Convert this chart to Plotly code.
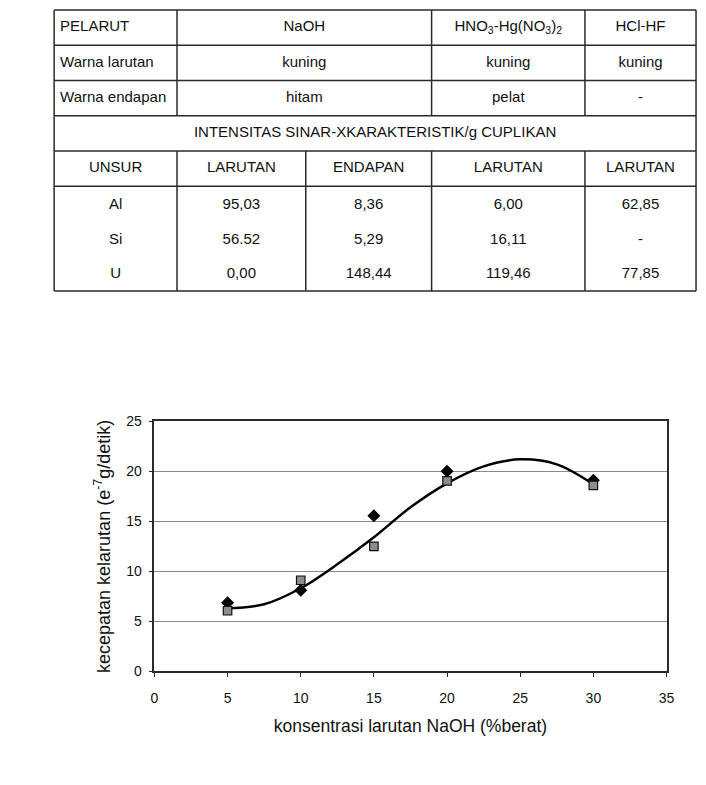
import plotly.graph_objects as go

# ---- table contents
pelarut = ["NaOH", "HNO<sub>3</sub>-Hg(NO<sub>3</sub>)<sub>2</sub>", "HCl-HF"]
warna_larutan = ["kuning", "kuning", "kuning"]
warna_endapan = ["hitam", "pelat", "-"]
judul_intensitas = "INTENSITAS SINAR-XKARAKTERISTIK/g CUPLIKAN"
kolom_unsur = ["UNSUR", "LARUTAN", "ENDAPAN", "LARUTAN", "LARUTAN"]
unsur = ["Al", "Si", "U"]
naoh_larutan = ["95,03", "56.52", "0,00"]
naoh_endapan = ["8,36", "5,29", "148,44"]
hno3_larutan = ["6,00", "16,11", "119,46"]
hclhf_larutan = ["62,85", "-", "77,85"]

# ---- chart data
konsentrasi = [5, 10, 15, 20, 30]
kecepatan_1 = [6.85, 8.1, 15.55, 20.0, 19.1]
kecepatan_2 = [6.05, 9.1, 12.5, 19.05, 18.6]
trend_x = [5, 7.5, 10, 12.5, 15, 17.5, 20, 22.5, 25, 27.5, 30]
trend_y = [6.3, 6.7, 8.3, 10.7, 13.4, 16.4, 18.8, 20.5, 21.2, 20.7, 18.7]

W, H = 706, 785
FONT = "Liberation Sans, Arial, sans-serif"

# table grid in page pixels
col_edges = [51, 176, 307, 435, 591, 704]
row_edges = [2, 38, 74, 110, 146, 182, 289]
data_rows_y = [201, 237, 272]


def mid(a, b):
    return (a + b) / 2


fig = go.Figure()

# table lines
lx, ly = [], []
for y in row_edges:
    lx += [col_edges[0], col_edges[-1], None]
    ly += [y, y, None]
for x in (col_edges[0], col_edges[-1]):
    lx += [x, x, None]
    ly += [row_edges[0], row_edges[-1], None]
for x in (col_edges[1], col_edges[3], col_edges[4]):
    lx += [x, x, None, x, x, None]
    ly += [row_edges[0], row_edges[3], None, row_edges[4], row_edges[-1], None]
lx += [col_edges[2], col_edges[2], None]
ly += [row_edges[4], row_edges[-1], None]
fig.add_trace(go.Scatter(x=lx, y=ly, mode="lines", xaxis="x2", yaxis="y2",
                         line=dict(color="#2a2a2a", width=1.5),
                         hoverinfo="skip", showlegend=False))

# table texts
tx, ty, tt, tp = [], [], [], []
top_centers = [mid(col_edges[1], col_edges[3]), mid(col_edges[3], col_edges[4]),
               mid(col_edges[4], col_edges[5])]
for r, (label, vals) in enumerate([("PELARUT", pelarut),
                                   ("Warna larutan", warna_larutan),
                                   ("Warna endapan", warna_endapan)]):
    yc = mid(row_edges[r], row_edges[r + 1])
    tx.append(col_edges[0] + 6); ty.append(yc); tt.append(label); tp.append("middle right")
    for xc, v in zip(top_centers, vals):
        tx.append(xc); ty.append(yc); tt.append(v); tp.append("middle center")
tx.append(mid(col_edges[0], col_edges[-1])); ty.append(mid(row_edges[3], row_edges[4]))
tt.append(judul_intensitas); tp.append("middle center")
centers = [mid(col_edges[i], col_edges[i + 1]) for i in range(5)]
for xc, v in zip(centers, kolom_unsur):
    tx.append(xc); ty.append(mid(row_edges[4], row_edges[5])); tt.append(v); tp.append("middle center")
columns = [unsur, naoh_larutan, naoh_endapan, hno3_larutan, hclhf_larutan]
for xc, col in zip(centers, columns):
    for yc, v in zip(data_rows_y, col):
        tx.append(xc); ty.append(yc); tt.append(v); tp.append("middle center")
fig.add_trace(go.Scatter(x=tx, y=ty, text=tt, textposition=tp, mode="text",
                         xaxis="x2", yaxis="y2", hoverinfo="skip", showlegend=False,
                         textfont=dict(family=FONT, size=15, color="#111111")))

# chart
fig.add_trace(go.Scatter(x=trend_x, y=trend_y, mode="lines", line_shape="spline",
                         line=dict(color="black", width=2.5), showlegend=False))
fig.add_trace(go.Scatter(x=konsentrasi, y=kecepatan_1, mode="markers", showlegend=False,
                         marker=dict(symbol="diamond", size=10, color="black")))
fig.add_trace(go.Scatter(x=konsentrasi, y=kecepatan_2, mode="markers", showlegend=False,
                         marker=dict(symbol="square", size=8.5, color="#8c8c8c",
                                     line=dict(color="#111111", width=1.2))))

fig.update_layout(
    width=W, height=H, autosize=False,
    margin=dict(l=0, r=0, t=0, b=0),
    paper_bgcolor="white", plot_bgcolor="white",
    font=dict(family=FONT, color="#111111"),
    xaxis=dict(domain=[153 / W, 674 / W], range=[0, 35], dtick=5, tick0=0,
               showgrid=False, zeroline=False, showline=True, mirror=True,
               linecolor="#2a2a2a", linewidth=1.5, ticks="outside", ticklen=4,
               tickcolor="#2a2a2a", tickfont=dict(size=14), ticklabelstandoff=9,
               title=dict(text="konsentrasi larutan NaOH (%berat)",
                          font=dict(size=17.5), standoff=15)),
    yaxis=dict(domain=[(H - 677) / H, (H - 422) / H], range=[0, 25], dtick=5, tick0=0,
               showgrid=True, gridcolor="#8a8a8a", gridwidth=1.2, zeroline=False,
               showline=True, mirror=True, linecolor="#2a2a2a", linewidth=1.5,
               ticks="outside", ticklen=4, tickcolor="#2a2a2a", tickfont=dict(size=14),
               ticklabelstandoff=4,
               title=dict(text="kecepatan kelarutan (e<sup>-7</sup>g/detik)",
                          font=dict(size=18), standoff=11)),
    xaxis2=dict(domain=[45 / W, 1], range=[45, W], visible=False, fixedrange=True),
    yaxis2=dict(domain=[1 - 295 / H, 1], range=[295, 0], visible=False, fixedrange=True),
)

# page body has a default 8px margin; drop it so the figure sits at 0,0
fig.write_html("out.html", config={"displayModeBar": False},
               post_script="document.body.style.margin='0';"
                           "document.body.style.overflow='hidden';")
